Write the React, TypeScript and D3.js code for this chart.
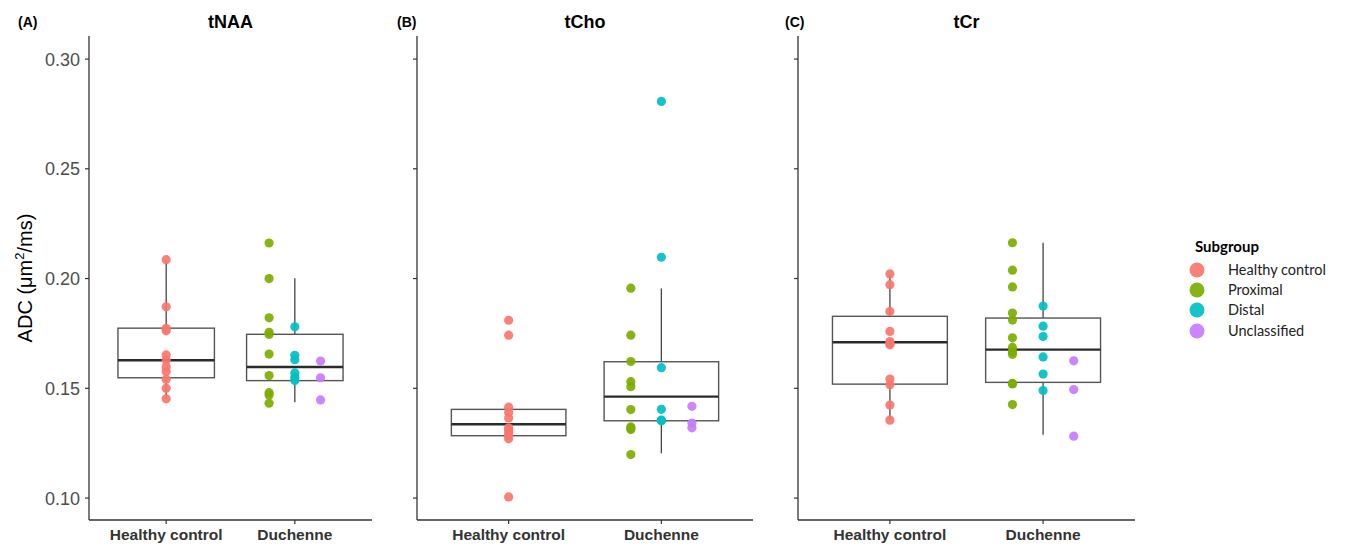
import React from "react";
import * as d3 from "d3";

// ---------- data ----------
const categories = ["Healthy control", "Duchenne"];
const subgroups = ["Healthy control", "Proximal", "Distal", "Unclassified"];
const subgroupColors = ["#F8766D", "#7CAE00", "#00BFC4", "#C77CFF"];
const panelTitles = ["tNAA", "tCho", "tCr"];
const panelTags = ["(A)", "(B)", "(C)"];
const yTicks = [0.1, 0.15, 0.2, 0.25, 0.3];
const yTickLabels = ["0.10", "0.15", "0.20", "0.25", "0.30"];

// tNAA
const tNAA_healthy = [0.2086, 0.1871, 0.1773, 0.1762, 0.1652, 0.1629, 0.1598, 0.1576, 0.1541, 0.15, 0.1452];
const tNAA_proximal = [0.2162, 0.2, 0.1821, 0.1755, 0.1745, 0.1656, 0.1558, 0.148, 0.147, 0.1432];
const tNAA_distal = [0.178, 0.165, 0.163, 0.157, 0.155, 0.1535];
const tNAA_unclassified = [0.1624, 0.1548, 0.1447];
// [lower whisker, q1, median, q3, upper whisker]
const tNAA_box_healthy = [0.1452, 0.1548, 0.1628, 0.1774, 0.2086];
const tNAA_box_duchenne = [0.1436, 0.1535, 0.1597, 0.1746, 0.2001];

// tCho
const tCho_healthy = [0.181, 0.1742, 0.1414, 0.139, 0.1365, 0.132, 0.131, 0.1297, 0.1284, 0.127, 0.1005];
const tCho_proximal = [0.1956, 0.1742, 0.1622, 0.153, 0.1507, 0.1403, 0.1324, 0.1318, 0.1312, 0.1198];
const tCho_distal = [0.2807, 0.2097, 0.1594, 0.1404, 0.1355, 0.1352];
const tCho_unclassified = [0.1418, 0.1342, 0.132];
const tCho_box_healthy = [0.127, 0.1284, 0.1336, 0.1404, 0.1404];
const tCho_box_duchenne = [0.1204, 0.1352, 0.1462, 0.1621, 0.1955];

// tCr
const tCr_healthy = [0.2021, 0.1972, 0.185, 0.1759, 0.1713, 0.1705, 0.1698, 0.1542, 0.1516, 0.1424, 0.1355];
const tCr_proximal = [0.2163, 0.2038, 0.1962, 0.1843, 0.1811, 0.173, 0.1686, 0.1666, 0.1655, 0.1523, 0.152, 0.1426];
const tCr_distal = [0.1875, 0.1783, 0.1736, 0.1643, 0.1565, 0.149];
const tCr_unclassified = [0.1625, 0.1494, 0.1282];
const tCr_box_healthy = [0.1355, 0.1519, 0.171, 0.1828, 0.2021];
const tCr_box_duchenne = [0.1288, 0.1527, 0.1676, 0.182, 0.2163];

const panels = [
  { title: panelTitles[0], tag: panelTags[0], series: [tNAA_healthy, tNAA_proximal, tNAA_distal, tNAA_unclassified], boxes: [tNAA_box_healthy, tNAA_box_duchenne] },
  { title: panelTitles[1], tag: panelTags[1], series: [tCho_healthy, tCho_proximal, tCho_distal, tCho_unclassified], boxes: [tCho_box_healthy, tCho_box_duchenne] },
  { title: panelTitles[2], tag: panelTags[2], series: [tCr_healthy, tCr_proximal, tCr_distal, tCr_unclassified], boxes: [tCr_box_healthy, tCr_box_duchenne] },
];

// ---------- layout ----------
const W = 1347;
const H = 546;
const plotTop = 36;
const plotBottom = 520;
const panelX = [
  [89, 372],
  [417, 753],
  [798, 1135],
];
const tagX = [18, 397, 785];
const FONT = "'Liberation Sans', Arial, sans-serif";

const yScale = d3.scaleLinear().domain([0.09, 0.3105]).range([plotBottom, plotTop]);

// subgroup -> category index and dodge offset (in category units)
const subCat = [0, 1, 1, 1];
const subOffset = [0, -0.2, 0, 0.2];

function Panel({ p, i }: { p: (typeof panels)[number]; i: number }) {
  const [x0, x1] = panelX[i];
  const x = d3.scaleLinear().domain([0.4, 2.6]).range([x0, x1]);
  const boxHalf = x(1.375) - x(1);
  return (
    <g>
      <text x={tagX[i]} y={27} fontFamily={FONT} fontWeight="bold" fontSize={14} fill="#000">
        {p.tag}
      </text>
      <text x={(x0 + x1) / 2} y={28} textAnchor="middle" fontFamily={FONT} fontWeight="bold" fontSize={18} fill="#000">
        {p.title}
      </text>
      {/* boxes */}
      {p.boxes.map((b, ci) => {
        const cx = x(ci + 1);
        const [lw, q1, med, q3, uw] = b;
        return (
          <g key={ci}>
            <line x1={cx} x2={cx} y1={yScale(q3)} y2={yScale(uw)} stroke="#444" strokeWidth={1.3} />
            <line x1={cx} x2={cx} y1={yScale(q1)} y2={yScale(lw)} stroke="#444" strokeWidth={1.3} />
            <rect x={cx - boxHalf} y={yScale(q3)} width={boxHalf * 2} height={yScale(q1) - yScale(q3)} fill="none" stroke="#555" strokeWidth={1.4} />
            <line x1={cx - boxHalf} x2={cx + boxHalf} y1={yScale(med)} y2={yScale(med)} stroke="#2b2b2b" strokeWidth={2.4} />
          </g>
        );
      })}
      {/* points */}
      {p.series.map((vals, si) =>
        vals.map((v, k) => (
          <circle
            key={si + "-" + k}
            cx={x(subCat[si] + 1 + subOffset[si])}
            cy={yScale(v)}
            r={4.6}
            fill={subgroupColors[si]}
            fillOpacity={0.92}
          />
        ))
      )}
      {/* axes */}
      <line x1={x0} x2={x0} y1={plotTop} y2={plotBottom} stroke="#333" strokeWidth={1.3} />
      <line x1={x0} x2={x1} y1={plotBottom} y2={plotBottom} stroke="#333" strokeWidth={1.3} />
      {yTicks.map((t, k) => (
        <g key={k}>
          <line x1={x0 - 4} x2={x0} y1={yScale(t)} y2={yScale(t)} stroke="#333" strokeWidth={1.2} />
          {i === 0 && (
            <text x={x0 - 9} y={yScale(t)} dy="0.36em" textAnchor="end" fontFamily={FONT} fontSize={18} fill="#4D4D4D">
              {yTickLabels[k]}
            </text>
          )}
        </g>
      ))}
      {categories.map((c, ci) => (
        <g key={c}>
          <line x1={x(ci + 1)} x2={x(ci + 1)} y1={plotBottom} y2={plotBottom + 4} stroke="#333" strokeWidth={1.2} />
          <text x={x(ci + 1)} y={540} textAnchor="middle" fontFamily={FONT} fontWeight="bold" fontSize={15.5} fill="#333">
            {c}
          </text>
        </g>
      ))}
    </g>
  );
}

export default function App() {
  const legendY = [270, 290, 310, 331];
  return (
    <svg width={W} height={H} style={{ position: "absolute", left: 0, top: 0, background: "#fff" }}>
      <rect width={W} height={H} fill="#fff" />
      <text
        transform={`translate(32, ${(plotTop + plotBottom) / 2}) rotate(-90)`}
        textAnchor="middle"
        fontFamily={FONT}
        fontSize={20}
        fill="#000"
      >
        ADC (μm
        <tspan dy="-8" fontSize={13}>2</tspan>
        <tspan dy="8">/ms)</tspan>
      </text>
      {panels.map((p, i) => (
        <Panel key={i} p={p} i={i} />
      ))}
      <g>
        <text x={1195} y={252} fontFamily="Lato, 'Noto Sans', sans-serif" fontWeight="bold" fontSize={15} fill="#000">
          Subgroup
        </text>
        {subgroups.map((s, k) => (
          <g key={s}>
            <circle cx={1197} cy={legendY[k]} r={7.5} fill={subgroupColors[k]} fillOpacity={0.92} />
            <text x={1228} y={legendY[k]} dy="0.35em" fontFamily="Lato, 'Noto Sans', sans-serif" fontSize={14.5} fill="#222">
              {s}
            </text>
          </g>
        ))}
      </g>
    </svg>
  );
}
